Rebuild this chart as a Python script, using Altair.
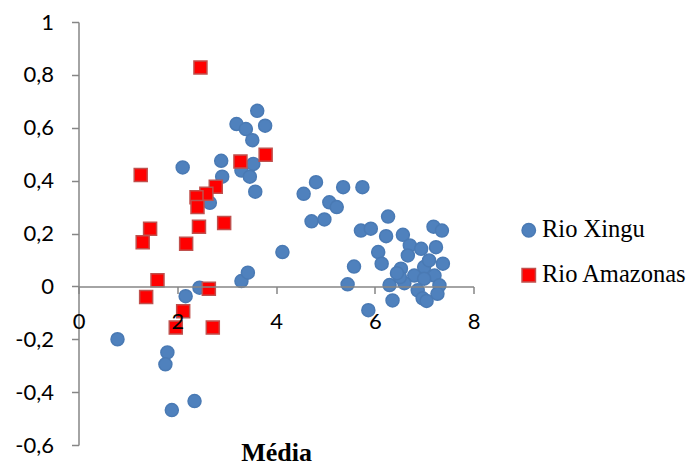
import altair as alt
import pandas as pd

series_names = ["Rio Xingu", "Rio Amazonas"]

xingu_x = [0.79, 2.11, 1.80, 1.76, 2.35, 1.89, 2.17, 2.45, 3.30, 3.43, 4.13,
           3.62, 3.20, 3.39, 3.78, 3.52, 2.89, 3.54, 3.30, 3.47, 2.91, 3.58, 2.66,
           4.56, 4.81, 5.36, 5.75, 5.08, 5.23, 4.72, 4.98, 6.27, 5.72, 5.92, 6.23,
           6.07, 6.14, 5.58, 5.45, 5.87,
           6.57, 7.19, 7.36, 6.71, 6.94, 7.24, 6.67, 7.38, 6.53, 7.00, 7.10, 6.80,
           7.21, 6.30, 7.00, 7.31, 6.87, 7.27, 6.97, 6.36, 6.60, 6.51, 6.45, 7.05]
xingu_y = [-0.20, 0.45, -0.25, -0.295, -0.434, -0.468, -0.037, -0.005, 0.02, 0.052, 0.13,
           0.664, 0.614, 0.595, 0.608, 0.553, 0.475, 0.463, 0.438, 0.415, 0.415, 0.358, 0.316,
           0.35, 0.394, 0.375, 0.375, 0.318, 0.30, 0.246, 0.253, 0.264, 0.211, 0.218, 0.19,
           0.13, 0.086, 0.075, 0.008, -0.09,
           0.195, 0.226, 0.211, 0.155, 0.142, 0.148, 0.117, 0.086, 0.067, 0.073, 0.098, 0.041,
           0.041, 0.005, 0.029, 0.004, -0.015, -0.028, -0.045, -0.053, 0.012, 0.035, 0.05, -0.055]

amazonas_x = [2.47, 3.79, 3.28, 1.26, 2.78, 2.59, 2.39, 2.41, 2.95, 2.44, 1.45, 1.30,
              2.18, 1.60, 2.64, 1.37, 2.12, 1.97, 2.72]
amazonas_y = [0.828, 0.498, 0.472, 0.421, 0.377, 0.35, 0.337, 0.30, 0.24, 0.226, 0.218, 0.167,
              0.161, 0.023, -0.009, -0.04, -0.094, -0.156, -0.156]

x_ticks = [0, 2, 4, 6, 8]
y_ticks = [-0.6, -0.4, -0.2, 0, 0.2, 0.4, 0.6, 0.8, 1]

df = pd.DataFrame({
    "x": xingu_x + amazonas_x,
    "y": xingu_y + amazonas_y,
    "Rio": [series_names[0]] * len(xingu_x) + [series_names[1]] * len(amazonas_x),
})

W, H = 395, 423
axis_gray = "#868686"
y_label_expr = ("abs(datum.value) < 1e-9 ? '0' : abs(datum.value - 1) < 1e-9 ? '1' : "
                "(datum.value < 0 ? '-' : '') + replace(format(abs(datum.value), '.1f'), '.', ',')")

chart = alt.Chart(df).mark_point(filled=True, size=169, strokeWidth=1.5, opacity=1).encode(
    x=alt.X("x:Q", scale=alt.Scale(domain=[0, 8], nice=False, zero=False),
            axis=alt.Axis(values=x_ticks, offset=-H * 0.6 / 1.6, title="Média",
                          titleY=174, titleBaseline="alphabetic",
                          titleFont="Liberation Serif", titleFontSize=26, titleFontWeight="bold",
                          titleColor="black", labelFlush=False, labelPadding=18,
                          format="d", zindex=1)),
    y=alt.Y("y:Q", scale=alt.Scale(domain=[-0.6, 1], nice=False, zero=False),
            axis=alt.Axis(values=y_ticks, title=None, labelExpr=y_label_expr, labelPadding=18)),
    color=alt.Color("Rio:N", scale=alt.Scale(domain=series_names, range=["#4F81BD", "#FF0000"]),
                    title=None),
    shape=alt.Shape("Rio:N", scale=alt.Scale(domain=series_names, range=["circle", "square"]),
                    title=None),
    stroke=alt.Stroke("Rio:N", scale=alt.Scale(domain=series_names, range=["#4A7AB4", "#C0504D"]),
                      title=None),
).properties(
    width=W, height=H,
    autosize=alt.AutoSizeParams(type="none"),
    padding={"left": 70.5, "top": 14, "right": 218.5, "bottom": 22},
).configure_view(stroke=None).configure_axis(
    grid=False, domainColor=axis_gray, domainWidth=1.5, tickColor=axis_gray, tickWidth=1.5,
    tickSize=7, labelFont="Lato", labelFontSize=22, labelColor="black",
).configure_legend(
    orient="none", legendX=438, legendY=196, labelFont="Liberation Serif", labelFontSize=24.5,
    labelColor="black", symbolSize=180, rowPadding=20, labelOffset=1, padding=0,
    symbolStrokeWidth=1.5,
)

chart.save("out.html", embed_options={"renderer": "svg", "actions": False})
